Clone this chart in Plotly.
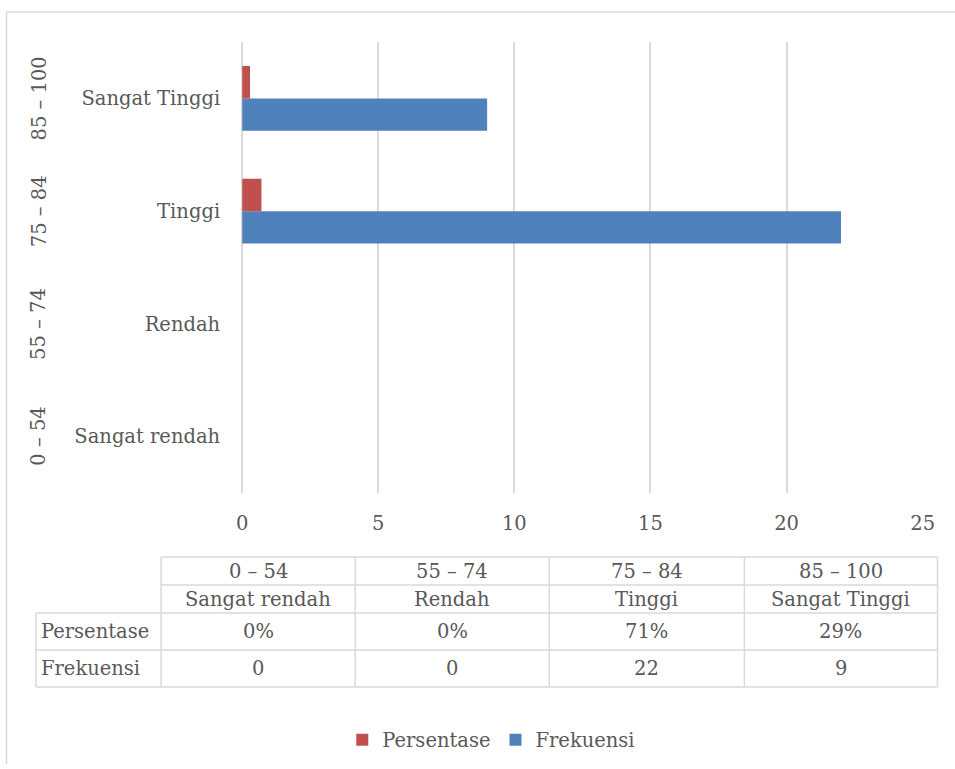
import plotly.graph_objects as go

ranges = ["0 – 54", "55 – 74", "75 – 84", "85 – 100"]
levels = ["Sangat rendah", "Rendah", "Tinggi", "Sangat Tinggi"]
persentase = [0.0, 0.0, 0.71, 0.29]
persentase_lbl = ["0%", "0%", "71%", "29%"]
frekuensi = [0, 0, 22, 9]
x_ticks = [0, 5, 10, 15, 20, 25]

W, H = 975, 764
# horizontal calibration of the rendered page (observed offset/scale)
AX, BX = 7.0, 0.981
FONT = "DejaVu Serif"
FS = 19.5
TXT = "#595959"
GRID = "#D9D9D9"
RED = "#C0504D"
BLUE = "#4F81BD"

def px(x):
    return ((x - AX) / BX) / W

def py(y):
    return 1 - y / H

fig = go.Figure()
fig.add_trace(go.Bar(y=levels, x=frekuensi, orientation="h", name="Frekuensi",
                     marker=dict(color=BLUE, line=dict(width=0)), legendrank=2))
fig.add_trace(go.Bar(y=levels, x=persentase, orientation="h", name="Persentase",
                     marker=dict(color=RED, line=dict(width=0)), legendrank=1))

PL, PR, PT, PB = 243, 924, 42, 493

annotations = []
for r, lv in zip(ranges, levels):
    annotations.append(dict(x=px(40), y=lv, xref="paper", yref="y", text=r,
                            textangle=-90, showarrow=False,
                            xanchor="center", yanchor="middle",
                            font=dict(family=FONT, size=FS, color=TXT)))

cols = [37, 162, 356, 550, 745, 938]
rows = [557, 585, 613, 650, 687]
shapes = []
lc = dict(color=GRID, width=1.5)
for i, y in enumerate(rows):
    x0 = cols[1] if i < 2 else cols[0]
    shapes.append(dict(type="line", xref="paper", yref="paper",
                       x0=px(x0), x1=px(cols[-1]), y0=py(y), y1=py(y), line=lc))
for j, x in enumerate(cols):
    y0 = rows[2] if j == 0 else rows[0]
    shapes.append(dict(type="line", xref="paper", yref="paper",
                       x0=px(x), x1=px(x), y0=py(y0), y1=py(rows[-1]), line=lc))
# outer frame (top and left edges visible)
shapes.append(dict(type="line", xref="paper", yref="paper",
                   x0=px(7.5), x1=1, y0=py(12), y1=py(12), line=lc))
shapes.append(dict(type="line", xref="paper", yref="paper",
                   x0=px(7.5), x1=px(7.5), y0=py(12), y1=0, line=lc))

tf = dict(family=FONT, size=FS, color=TXT)
row_texts = [ranges, levels, persentase_lbl, [str(v) for v in frekuensi]]
for i, texts in enumerate(row_texts):
    yc = (rows[i] + rows[i + 1]) / 2
    for j, t in enumerate(texts):
        xc = (cols[j + 1] + cols[j + 2]) / 2
        annotations.append(dict(x=px(xc), y=py(yc), xref="paper", yref="paper",
                                text=t, showarrow=False, font=tf,
                                xanchor="center", yanchor="middle"))
for i, name in [(2, "Persentase"), (3, "Frekuensi")]:
    yc = (rows[i] + rows[i + 1]) / 2
    annotations.append(dict(x=px(cols[0] + 3), y=py(yc), xref="paper", yref="paper",
                            text=name, showarrow=False, font=tf,
                            xanchor="left", yanchor="middle"))

fig.update_layout(
    width=W, height=H, autosize=False,
    margin=dict(l=0, r=0, t=0, b=0),
    paper_bgcolor="white", plot_bgcolor="white",
    barmode="group", bargap=0.424, bargroupgap=0,
    font=dict(family=FONT, color=TXT, size=FS),
    xaxis=dict(domain=[px(PL), px(PR)], range=[0, 25.03], tickvals=x_ticks,
               showgrid=True, gridcolor=GRID, gridwidth=1.5,
               zeroline=True, zerolinecolor=GRID, zerolinewidth=1.5,
               showline=False, ticks="", ticklabelstandoff=16,
               tickfont=dict(family=FONT, size=FS, color=TXT)),
    yaxis=dict(domain=[py(PB), py(PT)], type="category",
               categoryorder="array", categoryarray=levels,
               showgrid=False, zeroline=False, showline=False, ticks="",
               ticklabelstandoff=21,
               tickfont=dict(family=FONT, size=FS, color=TXT)),
    legend=dict(orientation="h", x=px(492), xanchor="center", y=py(740), yanchor="middle",
                font=dict(family=FONT, size=FS, color=TXT), traceorder="normal"),
    shapes=shapes, annotations=annotations,
)

fig.write_html("out.html")
